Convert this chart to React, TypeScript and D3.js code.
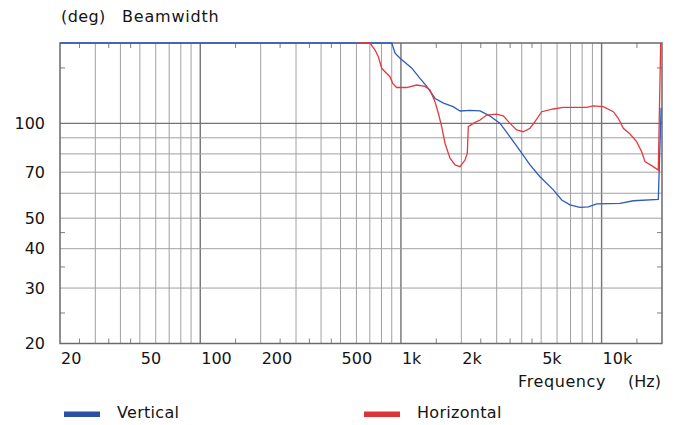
import React, {useEffect} from "react";
import * as d3 from "d3";

// Beamwidth (deg) against frequency (Hz)
const verticalData: Array<[number, number]> = [
	[20, 180], [900, 180], [935, 167], [990, 161], [1130, 150], [1245, 139],
	[1345, 131], [1480, 120], [1630, 116], [1820, 113], [1970, 109.5], [2210, 110],
	[2480, 109.5], [2780, 105.5], [3120, 100], [3490, 90.7], [4000, 80.4], [4400, 73.8],
	[4930, 67.7], [5750, 61.5], [6330, 57.1], [6960, 55.1], [7800, 54.1], [8590, 54.3],
	[9460, 55.5], [12350, 55.7], [14400, 56.8], [19170, 57.4], [19800, 112],
];

const horizontalData: Array<[number, number]> = [
	[613, 180], [701, 180], [743, 171], [771, 163], [802, 149.6], [849, 144],
	[882, 140.7], [910, 134], [952, 130], [1068, 130], [1199, 132.4], [1318, 131],
	[1396, 127.7], [1478, 117.2], [1536, 107.7], [1596, 97.6], [1658, 86.5], [1756, 77.5],
	[1860, 73.8], [1970, 72.9], [2086, 76.5], [2142, 80.4], [2166, 97.6], [2294, 100],
	[2478, 102.5], [2676, 106.3], [3000, 107], [3236, 105.6], [3496, 100], [3774, 95.3],
	[4072, 94.1], [4398, 96.5], [4656, 101.3], [5030, 108.9], [5744, 111.1], [6444, 112.5],
	[8430, 112.5], [9092, 113.6], [10196, 113], [11440, 108.9], [12110, 103.8], [12830, 96.5],
	[13850, 92.5], [14950, 87.5], [15840, 81.3], [16450, 75.6], [18090, 72.9], [19170, 71.1],
	[19700, 180],
];

const xLabelTicks = [20, 50, 100, 200, 500, 1000, 2000, 5000, 10000];
const xGridValues = [
	30, 40, 50, 60, 70, 80, 90, 100, 200, 300, 400, 500, 600, 700, 800, 900,
	1000, 2000, 3000, 4000, 5000, 6000, 7000, 8000, 9000, 10000,
];
const xMajorValues = [100, 1000, 10000];
const xMinorTicks = [25, 35, 45, 150, 250, 350, 450, 1500, 2500, 3500, 4500, 15000];

const yLabelTicks = [20, 30, 40, 50, 70, 100];
const yGridValues = [30, 40, 50, 60, 70, 80, 90, 100];
const yMajorValues = [100];
const yMinorTicks = [25, 35, 45, 150];

const W = 678;
const H = 425;
const plot = {left: 60, right: 662, top: 43, bottom: 343.5};
const blue = "#2f5bbd";
const red = "#e23a3f";
const textColor = "#141414";
const font = "Verdana, 'DejaVu Sans', sans-serif";

const fmtHz = (v: number) => (v >= 1000 ? `${v / 1000}k` : `${v}`);

export default function App() {
	useEffect(() => {
		document.body.style.margin = "0";
	}, []);

	const x = d3.scaleLog().domain([20, 20000]).range([plot.left, plot.right]);
	const y = d3.scaleLog().domain([20, 180]).range([plot.bottom, plot.top]);

	const line = d3
		.line<[number, number]>()
		.x((d) => x(d[0]))
		.y((d) => y(d[1]));

	const tickLen = 5;

	return (
		<svg width={W} height={H} style={{display: "block", background: "#fff"}} fontFamily={font}>
			{/* vertical grid */}
			{xGridValues.map((v) => (
				<line
					key={`xg${v}`}
					x1={x(v)}
					x2={x(v)}
					y1={plot.top}
					y2={plot.bottom}
					stroke={xMajorValues.includes(v) ? "#737373" : "#a0a0a0"}
					strokeWidth={xMajorValues.includes(v) ? 1.4 : 1}
				/>
			))}
			{/* horizontal grid */}
			{yGridValues.map((v) => (
				<line
					key={`yg${v}`}
					x1={plot.left}
					x2={plot.right}
					y1={y(v)}
					y2={y(v)}
					stroke={yMajorValues.includes(v) ? "#737373" : "#a0a0a0"}
					strokeWidth={yMajorValues.includes(v) ? 1.4 : 1}
				/>
			))}
			{/* minor ticks */}
			{xMinorTicks.map((v) => (
				<g key={`xm${v}`} stroke="#808080" strokeWidth={1}>
					<line x1={x(v)} x2={x(v)} y1={plot.bottom} y2={plot.bottom - tickLen} />
					<line x1={x(v)} x2={x(v)} y1={plot.top} y2={plot.top + tickLen} />
				</g>
			))}
			{yMinorTicks.map((v) => (
				<g key={`ym${v}`} stroke="#808080" strokeWidth={1}>
					<line x1={plot.left} x2={plot.left + tickLen} y1={y(v)} y2={y(v)} />
					<line x1={plot.right} x2={plot.right - tickLen} y1={y(v)} y2={y(v)} />
				</g>
			))}
			{/* frame */}
			<rect
				x={plot.left}
				y={plot.top}
				width={plot.right - plot.left}
				height={plot.bottom - plot.top}
				fill="none"
				stroke="#6a6a6a"
				strokeWidth={1.5}
			/>
			{/* series */}
			<path d={line(verticalData) || ""} fill="none" stroke={blue} strokeWidth={1.3} />
			<path d={line(horizontalData) || ""} fill="none" stroke={red} strokeWidth={1.3} />
			{/* y labels */}
			{yLabelTicks.map((v) => (
				<text key={`yl${v}`} x={45} y={y(v)} dy="0.36em" textAnchor="end" fontSize={16} fill={textColor}>
					{v}
				</text>
			))}
			{/* x labels */}
			{xLabelTicks.map((v) => (
				<text key={`xl${v}`} x={x(v) + 1} y={364} textAnchor="start" fontSize={16} fill={textColor}>
					{fmtHz(v)}
				</text>
			))}
			{/* titles */}
			<text x={61} y={22} fontSize={16} fill={textColor} letterSpacing={0.4}>(deg)</text>
			<text x={122} y={22} fontSize={16} fill={textColor} letterSpacing={0.8}>Beamwidth</text>
			<text x={518} y={387} fontSize={16} fill={textColor} letterSpacing={0.6}>Frequency</text>
			<text x={661} y={387} fontSize={16} fill={textColor} textAnchor="end">(Hz)</text>
			{/* legend */}
			<rect x={64} y={411.5} width={36} height={5.5} fill="#2a4fa6" />
			<text x={117} y={417.5} fontSize={16} fill={textColor} letterSpacing={0.3}>Vertical</text>
			<rect x={364} y={411.5} width={36} height={5.5} fill="#dd3338" />
			<text x={417} y={417.5} fontSize={16} fill={textColor} letterSpacing={0.3}>Horizontal</text>
		</svg>
	);
}
